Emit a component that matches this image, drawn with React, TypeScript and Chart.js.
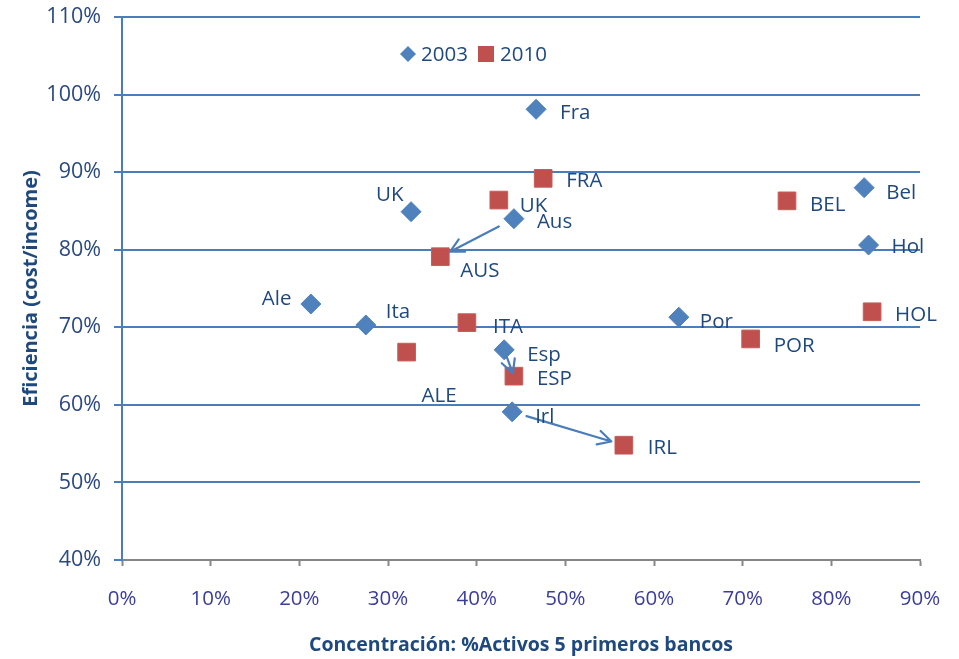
import React, { useEffect, useRef } from "react";
import { Chart, registerables } from "chart.js";

Chart.register(...registerables);

// ---- Data ----
const names2003 = ["Fra", "UK", "Aus", "Bel", "Hol", "Ale", "Ita", "Por", "Esp", "Irl"];
const conc2003 = [46.7, 32.6, 44.2, 83.7, 84.2, 21.3, 27.5, 62.8, 43.1, 44.0];
const effic2003 = [98.1, 84.9, 84.0, 88.0, 80.6, 73.0, 70.3, 71.3, 67.1, 59.1];

const names2010 = ["FRA", "UK", "BEL", "AUS", "HOL", "ITA", "ALE", "POR", "ESP", "IRL"];
const conc2010 = [47.5, 42.5, 75.0, 35.9, 84.6, 38.9, 32.1, 70.9, 44.2, 56.6];
const effic2010 = [89.2, 86.4, 86.3, 79.1, 72.0, 70.6, 66.8, 68.5, 63.7, 54.8];

const seriesNames = ["2003", "2010"];
// arrows: [index in 2003 series, index in 2010 series]
const arrowPairs = [
  [2, 3], // Aus -> AUS
  [8, 8], // Esp -> ESP
  [9, 9], // Irl -> IRL
];

const xTicks = [0, 10, 20, 30, 40, 50, 60, 70, 80, 90];
const yTicks = [40, 50, 60, 70, 80, 90, 100, 110];

// ---- Styles (label offsets in px: text left, vertical middle) ----
const offsets2003 = [
  [24, 4], [-35, -17], [23, 3], [22, 5], [23, 2], [-49, -5], [20, -13], [21, 5], [23, 5], [23, 5],
];
const offsets2010 = [
  [23, 3], [21, 6], [23, 4], [20, 14], [23, 3], [26, 5], [15, 44], [23, 7], [23, 3], [24, 3],
];
const arrowGaps = [
  [17, 11],
  [8, 3],
  [15, 13],
];

const BLUE = "#4f81bd";
const RED = "#c0504d";
const GRID = "#4a7ebb";
const LABEL = "#1f497d";
const FONT = "'Open Sans', 'DejaVu Sans', sans-serif";

const overlayPlugin = {
  id: "overlay",
  afterDatasetsDraw(chart: any) {
    const ctx = chart.ctx;
    const xs = chart.scales.x;
    const ys = chart.scales.y;
    ctx.save();

    // arrows
    ctx.strokeStyle = GRID;
    ctx.lineWidth = 2.2;
    ctx.lineCap = "round";
    ctx.lineJoin = "round";
    arrowPairs.forEach(([i, j], k) => {
      const x1 = xs.getPixelForValue(conc2003[i]);
      const y1 = ys.getPixelForValue(effic2003[i]);
      const x2 = xs.getPixelForValue(conc2010[j]);
      const y2 = ys.getPixelForValue(effic2010[j]);
      const dx = x2 - x1;
      const dy = y2 - y1;
      const len = Math.hypot(dx, dy);
      const ux = dx / len;
      const uy = dy / len;
      const [g1, g2] = arrowGaps[k];
      const sx = x1 + ux * g1;
      const sy = y1 + uy * g1;
      const ex = x2 - ux * g2;
      const ey = y2 - uy * g2;
      ctx.beginPath();
      ctx.moveTo(sx, sy);
      ctx.lineTo(ex, ey);
      const ang = Math.atan2(dy, dx);
      const h = 15;
      const spread = 0.48;
      ctx.moveTo(ex - h * Math.cos(ang - spread), ey - h * Math.sin(ang - spread));
      ctx.lineTo(ex, ey);
      ctx.lineTo(ex - h * Math.cos(ang + spread), ey - h * Math.sin(ang + spread));
      ctx.stroke();
    });

    // point labels
    ctx.font = `20.5px ${FONT}`;
    ctx.fillStyle = LABEL;
    ctx.textAlign = "left";
    ctx.textBaseline = "middle";
    names2003.forEach((n, i) => {
      const px = xs.getPixelForValue(conc2003[i]);
      const py = ys.getPixelForValue(effic2003[i]);
      ctx.fillText(n, px + offsets2003[i][0], py + offsets2003[i][1]);
    });
    names2010.forEach((n, i) => {
      const px = xs.getPixelForValue(conc2010[i]);
      const py = ys.getPixelForValue(effic2010[i]);
      ctx.fillText(n, px + offsets2010[i][0], py + offsets2010[i][1]);
    });

    // legend inside plot
    const ly = 54;
    const lx = 408;
    ctx.fillStyle = BLUE;
    ctx.beginPath();
    ctx.moveTo(lx - 8, ly);
    ctx.lineTo(lx, ly - 8);
    ctx.lineTo(lx + 8, ly);
    ctx.lineTo(lx, ly + 8);
    ctx.closePath();
    ctx.fill();
    ctx.fillStyle = LABEL;
    ctx.fillText(seriesNames[0], 421, ly + 1);
    ctx.fillStyle = RED;
    ctx.fillRect(478, ly - 8, 16, 16);
    ctx.fillStyle = LABEL;
    ctx.fillText(seriesNames[1], 500, ly + 1);

    ctx.restore();
  },
};

export default function App() {
  const ref = useRef<HTMLCanvasElement | null>(null);

  useEffect(() => {
    if (!ref.current) return;
    const chart = new Chart(ref.current, {
      type: "scatter",
      data: {
        datasets: [
          {
            label: seriesNames[0],
            data: conc2003.map((x, i) => ({ x, y: effic2003[i] })),
            pointStyle: "rectRot",
            pointRadius: 10,
            pointHoverRadius: 10,
            backgroundColor: BLUE,
            borderColor: BLUE,
            borderWidth: 1,
          },
          {
            label: seriesNames[1],
            data: conc2010.map((x, i) => ({ x, y: effic2010[i] })),
            pointStyle: "rect",
            pointRadius: 12.5,
            pointHoverRadius: 12.5,
            backgroundColor: RED,
            borderColor: "#c65d5a",
            borderWidth: 1,
          },
        ],
      },
      options: {
        responsive: false,
        animation: false,
        layout: { padding: { top: 17, right: 39, left: 0, bottom: 0 } },
        plugins: {
          legend: { display: false },
          tooltip: { enabled: false },
        },
        scales: {
          x: {
            type: "linear",
            min: xTicks[0],
            max: xTicks[xTicks.length - 1],
            afterBuildTicks: (s: any) => {
              s.ticks = xTicks.map((v) => ({ value: v }));
            },
            afterFit: (s: any) => {
              s.height = 99;
              s.paddingLeft = 0;
              s.paddingRight = 0;
            },
            ticks: {
              callback: (v: any) => `${v}%`,
              color: "#3b3d9b",
              font: { family: FONT, size: 20.5 },
              padding: 21,
              maxRotation: 0,
            },
            grid: {
              drawOnChartArea: false,
              drawTicks: true,
              tickLength: 6,
              tickColor: "#868686",
              tickWidth: 2,
            },
            border: { color: "#868686", width: 2 },
            title: {
              display: true,
              text: "Concentración: %Activos 5 primeros bancos",
              color: LABEL,
              font: { family: FONT, size: 19.5, weight: "bold" },
              padding: { top: 0, bottom: 2 },
            },
          },
          y: {
            type: "linear",
            min: yTicks[0],
            max: yTicks[yTicks.length - 1],
            afterBuildTicks: (s: any) => {
              s.ticks = yTicks.map((v) => ({ value: v }));
            },
            afterFit: (s: any) => {
              s.width = 122;
              s.paddingTop = 0;
              s.paddingBottom = 0;
            },
            ticks: {
              callback: (v: any) => `${v}%`,
              color: "#2a4a7f",
              font: { family: FONT, size: 21.5 },
              padding: 13,
            },
            grid: {
              color: (c: any) => (c.tick && c.tick.value === yTicks[0] ? "rgba(0,0,0,0)" : GRID),
              lineWidth: 2,
              drawTicks: true,
              tickLength: 8,
              tickColor: GRID,
              tickWidth: 2,
            },
            border: { color: GRID, width: 2 },
            title: {
              display: true,
              text: "Eficiencia (cost/income)",
              color: LABEL,
              font: { family: FONT, size: 20, weight: "bold" },
              padding: { top: 19, bottom: 0 },
            },
          },
        },
      },
      plugins: [overlayPlugin],
    });
    return () => chart.destroy();
  }, []);

  return (
    <div style={{ position: "fixed", left: 0, top: 0, width: 959, height: 659, background: "#fff" }}>
      <canvas ref={ref} width={959} height={659} style={{ width: 959, height: 659 }} />
    </div>
  );
}
